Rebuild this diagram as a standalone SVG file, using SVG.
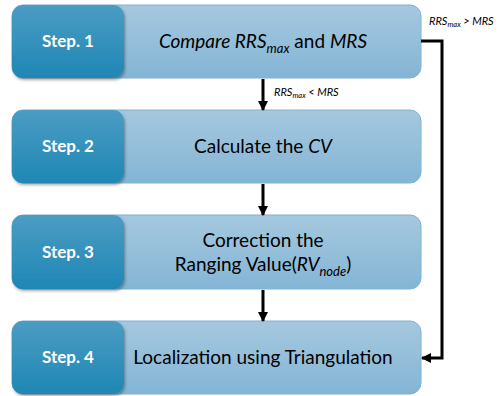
<svg xmlns="http://www.w3.org/2000/svg" width="503" height="396" viewBox="0 0 503 396">
<defs>
<linearGradient id="gl" x1="0" y1="0" x2="0" y2="1">
<stop offset="0" stop-color="#a5c8df"/>
<stop offset="1" stop-color="#84b5d5"/>
</linearGradient>
<linearGradient id="gd" x1="0" y1="0" x2="0" y2="1">
<stop offset="0" stop-color="#4b9cc3"/>
<stop offset="1" stop-color="#1f87b5"/>
</linearGradient>
<filter id="sh" x="-10%" y="-10%" width="130%" height="130%">
<feDropShadow dx="1" dy="2" stdDeviation="1.5" flood-color="#000" flood-opacity="0.35"/>
</filter>
<marker id="ah" markerWidth="10" markerHeight="10" refX="9" refY="5" orient="auto" markerUnits="userSpaceOnUse">
<path d="M0,0 L10,5 L0,10 Z" fill="#000"/>
</marker>
</defs>
<style>
.light{fill:url(#gl);stroke:#7fb2d3;stroke-width:1}
.dark{fill:url(#gd);filter:url(#sh)}
.step{font-family:Lato,"Open Sans","Liberation Sans",sans-serif;font-weight:bold;font-size:17px;fill:#fff;text-anchor:middle}
.main{font-family:Lato,"Open Sans","Liberation Sans",sans-serif;font-size:19px;fill:#000;text-anchor:middle}
.lbl{font-family:Lato,"Open Sans","Liberation Sans",sans-serif;font-size:11px;font-style:italic;fill:#000}
.con{fill:none;stroke:#000;stroke-width:3;marker-end:url(#ah)}
</style>
<g id="step1">
<rect class="light" x="12" y="5" width="409" height="73" rx="11"/>
<rect class="dark" x="12" y="5" width="112" height="73" rx="11"/>
<text class="step" x="68" y="47">Step. 1</text>
<text class="main" x="263" y="48"><tspan font-style="italic">Compare RRS</tspan><tspan font-style="italic" font-size="13" dy="5">max</tspan><tspan dy="-5"> and </tspan><tspan font-style="italic">MRS</tspan></text>
</g>
<g id="step2">
<rect class="light" x="12" y="110" width="409" height="73" rx="11"/>
<rect class="dark" x="12" y="110" width="112" height="73" rx="11"/>
<text class="step" x="68" y="152">Step. 2</text>
<text class="main" x="263" y="153">Calculate the <tspan font-style="italic">CV</tspan></text>
</g>
<g id="step3">
<rect class="light" x="12" y="215" width="409" height="74" rx="11"/>
<rect class="dark" x="12" y="215" width="112" height="74" rx="11"/>
<text class="step" x="68" y="258">Step. 3</text>
<text class="main" x="263" y="247">Correction the</text>
<text class="main" x="263" y="271">Ranging Value(<tspan font-style="italic">RV</tspan><tspan font-style="italic" font-size="13" dy="5">node</tspan><tspan dy="-5">)</tspan></text>
</g>
<g id="step4">
<rect class="light" x="12" y="321" width="409" height="73" rx="11"/>
<rect class="dark" x="12" y="321" width="112" height="73" rx="11"/>
<text class="step" x="68" y="363">Step. 4</text>
<text class="main" x="263" y="364">Localization using Triangulation</text>
</g>
<g id="connectors">
<line class="con" x1="263" y1="79" x2="263" y2="110"/>
<line class="con" x1="263" y1="184" x2="263" y2="215"/>
<line class="con" x1="263" y1="290" x2="263" y2="321"/>
<polyline class="con" points="421,41 442,41 442,358 422,358"/>
<text class="lbl" x="274" y="96">RRS<tspan font-size="7.5" dy="2">max</tspan><tspan dy="-2"> &lt; MRS</tspan></text>
<text class="lbl" x="429" y="25">RRS<tspan font-size="7.5" dy="2">max</tspan><tspan dy="-2"> &gt; MRS</tspan></text>
</g>
</svg>
